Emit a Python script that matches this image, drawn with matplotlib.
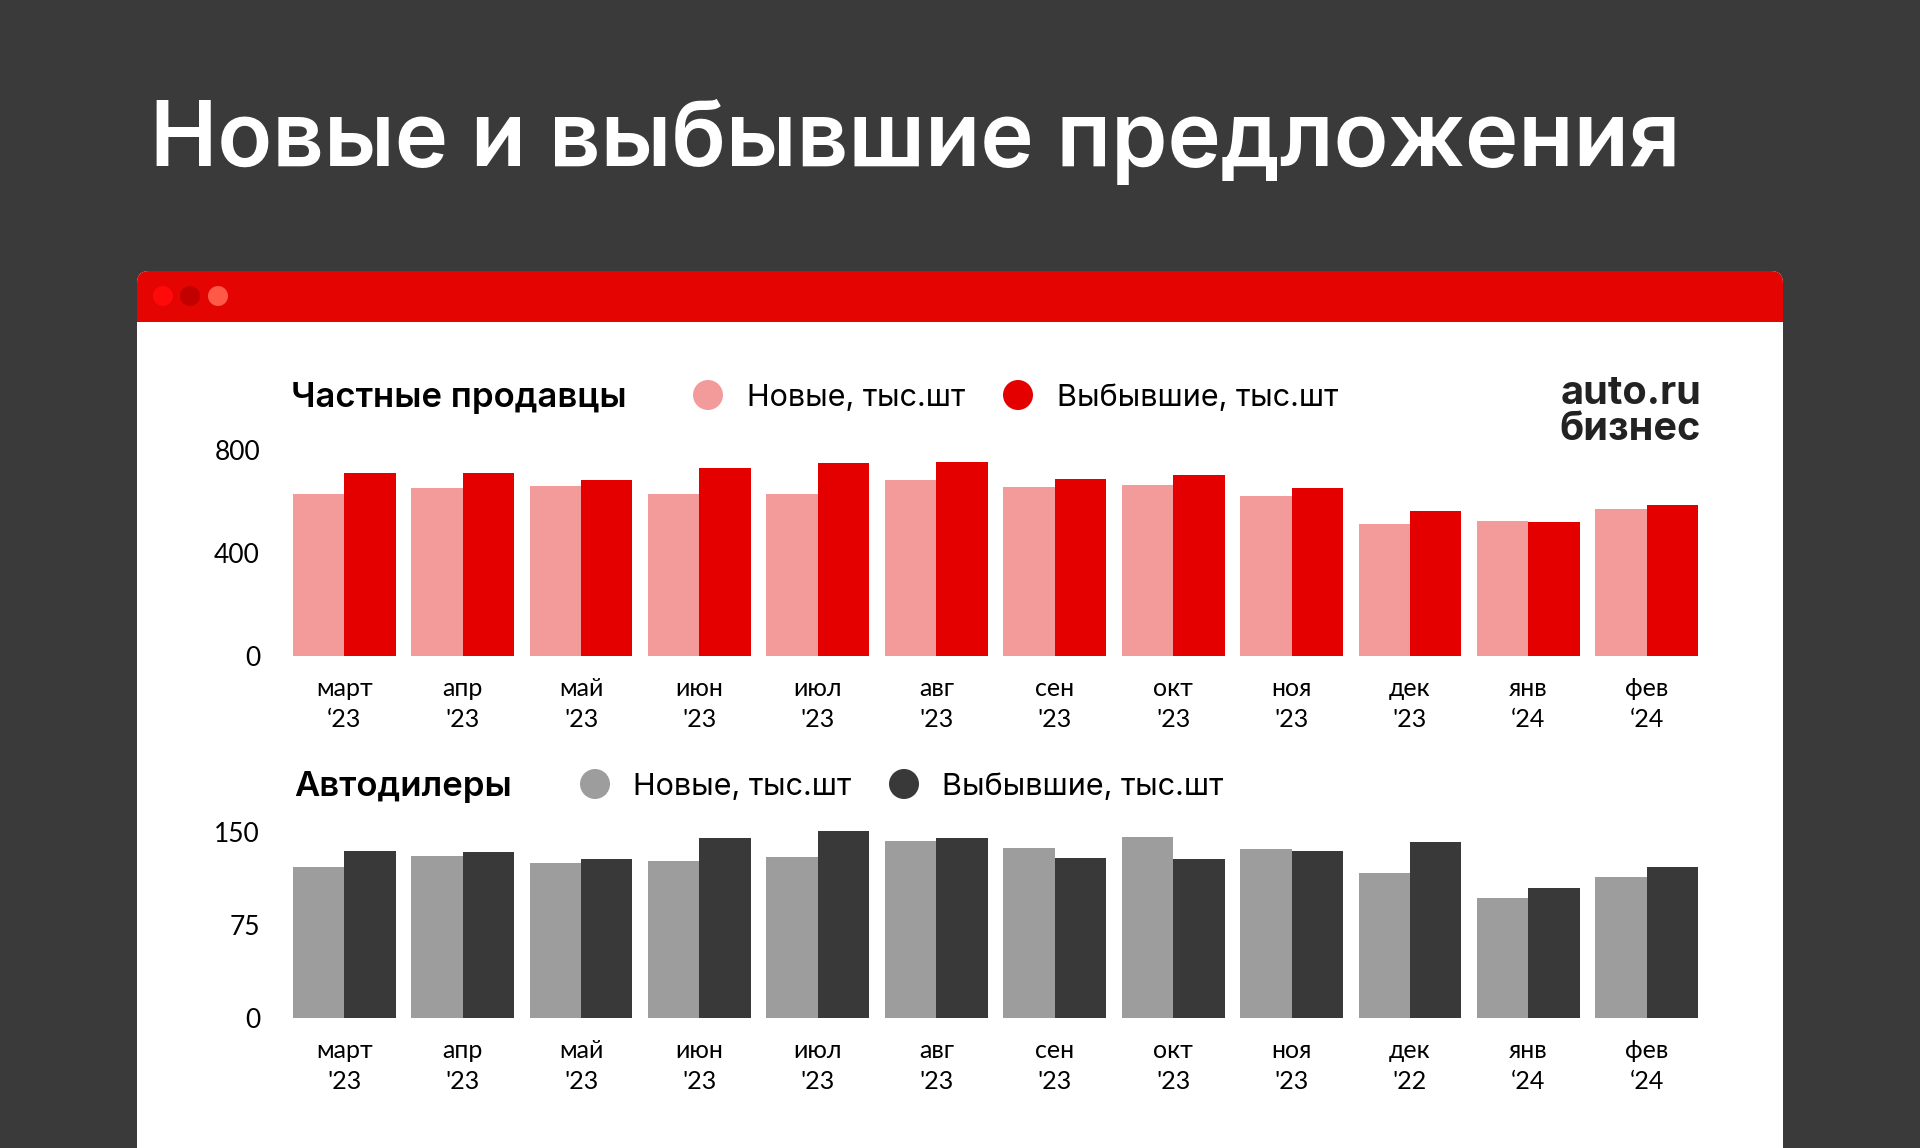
import numpy as np
import matplotlib
matplotlib.use("Agg")
import matplotlib.pyplot as plt
from matplotlib.patches import FancyBboxPatch, Rectangle, Circle

plt.rcParams['font.family'] = ['Lato', 'DejaVu Sans']
HEAD = ['Inter', 'DejaVu Sans']

# data
months_top = ["март\n‘23", "апр\n'23", "май\n'23", "июн\n'23", "июл\n'23", "авг\n'23",
              "сен\n'23", "окт\n'23", "ноя\n'23", "дек\n'23", "янв\n‘24", "фев\n‘24"]
months_bot = ["март\n'23", "апр\n'23", "май\n'23", "июн\n'23", "июл\n'23", "авг\n'23",
              "сен\n'23", "окт\n'23", "ноя\n'23", "дек\n'22", "янв\n‘24", "фев\n‘24"]

private_new = [629, 652, 660, 629, 629, 683, 656, 664, 621, 513, 524, 571]
private_gone = [712, 712, 683, 730, 751, 753, 687, 703, 652, 563, 520, 586]

dealer_new = [122, 131, 125, 127, 130, 143, 137, 146, 136, 117, 97, 114]
dealer_gone = [135, 134, 128, 145, 151, 145, 129, 128, 135, 142, 105, 122]

BG = "#3a3a3a"
RED = "#e50000"
PINK = "#f39a9a"
GREY = "#9d9d9d"
DARK = "#393939"

W, H = 1920, 1148
fig = plt.figure(figsize=(W / 100, H / 100), dpi=100, facecolor=BG)

# background layer in pixel coords (y down)
bg = fig.add_axes([0, 0, 1, 1])
bg.set_xlim(0, W)
bg.set_ylim(H, 0)
bg.axis("off")

bg.text(150, 166, "Новые и выбывшие предложения", color="white", fontsize=65,
        fontweight="semibold", family=HEAD, ha="left", va="baseline")

# card
bg.add_patch(FancyBboxPatch((137, 271), 1646, 900, boxstyle="round,pad=0,rounding_size=12",
                            fc="white", ec="none"))
bg.add_patch(FancyBboxPatch((137, 271), 1646, 51, boxstyle="round,pad=0,rounding_size=12",
                            fc="#e40502", ec="none"))
bg.add_patch(Rectangle((137, 300), 1646, 22, fc="#e40502", ec="none"))
for cx, c in zip([163, 190, 218], ["#ff0a0a", "#c20000", "#ff5a48"]):
    bg.add_patch(Circle((cx, 296), 10, fc=c, ec="none"))

# headings and legends
bg.text(291, 398, "Частные продавцы", fontsize=25, fontweight="semibold", family=HEAD,
        color="black", ha="left", va="center")
bg.add_patch(Circle((708, 395), 15, fc=PINK, ec="none"))
bg.text(747, 398, "Новые, тыс.шт", fontsize=22, family=HEAD, color="black",
        ha="left", va="center")
bg.add_patch(Circle((1018, 395), 15, fc=RED, ec="none"))
bg.text(1057, 398, "Выбывшие, тыс.шт", fontsize=22, family=HEAD, color="black",
        ha="left", va="center")

bg.text(294, 787, "Автодилеры", fontsize=25, fontweight="semibold", family=HEAD,
        color="black", ha="left", va="center")
bg.add_patch(Circle((595, 784), 15, fc=GREY, ec="none"))
bg.text(633, 787, "Новые, тыс.шт", fontsize=22, family=HEAD, color="black",
        ha="left", va="center")
bg.add_patch(Circle((904, 784), 15, fc=DARK, ec="none"))
bg.text(942, 787, "Выбывшие, тыс.шт", fontsize=22, family=HEAD, color="black",
        ha="left", va="center")

# logo
bg.text(1701, 394, "auto.ru", fontsize=28.5, fontweight="bold", family=HEAD, color="#222222",
        ha="right", va="center")
bg.text(1701, 429, "бизнес", fontsize=28.5, fontweight="bold", family=HEAD, color="#222222",
        ha="right", va="center")


def px_axes(left, right, top, bottom):
    return fig.add_axes([left / W, 1 - bottom / H, (right - left) / W, (bottom - top) / H])


def bar_panel(ax, new, gone, c_new, c_gone, labels, ymax, yticks):
    x = np.arange(len(new))
    w = 0.434
    ax.bar(x - w / 2, new, w, color=c_new, clip_on=False)
    ax.bar(x + w / 2, gone, w, color=c_gone, clip_on=False)
    ax.set_xlim(-0.5, len(new) - 0.5)
    ax.set_ylim(0, ymax)
    ax.set_yticks(yticks)
    ax.set_xticks(x, labels)
    for lab in ax.get_xticklabels():
        lab.set_linespacing(1.45)
    ax.tick_params(axis="y", length=0, pad=18, labelsize=19)
    ax.tick_params(axis="x", length=0, pad=15, labelsize=18)
    for s in ax.spines.values():
        s.set_visible(False)
    ax.set_facecolor("none")


ax1 = px_axes(285, 1706, 450, 656)
bar_panel(ax1, private_new, private_gone, PINK, RED, months_top, 800, [0, 400, 800])

ax2 = px_axes(285, 1706, 832, 1018)
bar_panel(ax2, dealer_new, dealer_gone, GREY, DARK, months_bot, 150, [0, 75, 150])

fig.savefig("out.png", dpi=100, facecolor=BG)
